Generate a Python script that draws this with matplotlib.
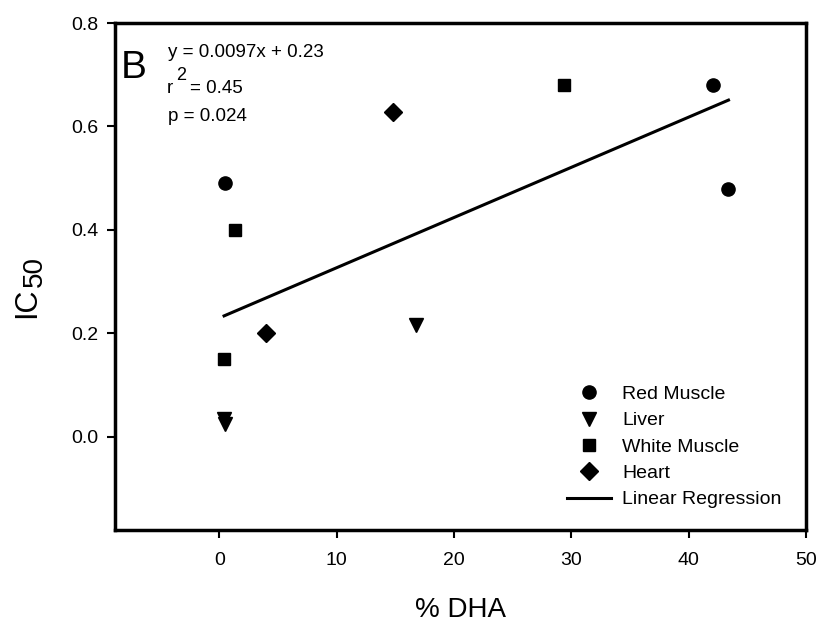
import matplotlib
matplotlib.use("Agg")
import matplotlib.pyplot as plt
import numpy as np

plt.rcParams['font.family'] = ['Liberation Sans', 'DejaVu Sans']

# Data
red_x = [0.45, 42.1, 43.4]
red_y = [0.49, 0.68, 0.48]
liver_x = [0.4, 0.45, 16.8]
liver_y = [0.035, 0.025, 0.216]
white_x = [1.35, 0.4, 29.4]
white_y = [0.40, 0.15, 0.68]
heart_x = [4.0, 14.8]
heart_y = [0.20, 0.628]
slope = 0.0097
intercept = 0.23

x_ticks = [0, 10, 20, 30, 40, 50]
y_ticks = [0.0, 0.2, 0.4, 0.6, 0.8]

W, H = 819, 622
fig = plt.figure(figsize=(W / 100, H / 100), dpi=100)
ax = fig.add_axes([0.1404, 0.1479, 0.8436, 0.8151])

ax.plot(red_x, red_y, 'o', color='black', markersize=9.5, label='Red Muscle', linestyle='none')
ax.plot(liver_x, liver_y, 'v', color='black', markersize=10, label='Liver', linestyle='none')
ax.plot(white_x, white_y, 's', color='black', markersize=8.5, label='White Muscle', linestyle='none')
ax.plot(heart_x, heart_y, 'D', color='black', markersize=9, label='Heart', linestyle='none')

all_x = red_x + liver_x + white_x + heart_x
xr = np.array([min(all_x), max(all_x)])
ax.plot(xr, slope * xr + intercept, '-', color='black', linewidth=2.2, label='Linear Regression')

ax.set_xlim(-8.9, 50)
ax.set_ylim(-0.18, 0.8)
ax.set_xticks(x_ticks)
ax.set_yticks(y_ticks)
ax.set_xticklabels([str(v) for v in x_ticks])
ax.set_yticklabels([f"{v:.1f}" for v in y_ticks])
ax.tick_params(axis='both', direction='out', length=6, width=1.5, labelsize=14, color='black', pad=6)
ax.tick_params(axis='x', pad=10)
ax.tick_params(top=False, right=False)
for s in ax.spines.values():
    s.set_linewidth(2.5)

ax.set_xlabel('% DHA', fontsize=20, labelpad=20)

# y label: IC with a large subscript 50
def fx(px):
    return px / W

def fy(py):
    return 1 - py / H

fig.text(fx(35), fy(318), 'IC', rotation=90, rotation_mode='anchor', ha='left', va='baseline', fontsize=22)
fig.text(fx(42), fy(287), '50', rotation=90, rotation_mode='anchor', ha='left', va='baseline', fontsize=20)

# annotations (axes fraction from pixel positions)
ax_l, ax_t, ax_w, ax_h = 115, 23, 691, 507

def axx(px):
    return (px - ax_l) / ax_w

def axy(py):
    return 1 - (py - ax_t) / ax_h

ax.text(axx(121), axy(78), 'B', transform=ax.transAxes, fontsize=28, va='baseline', ha='left')
ax.text(axx(168), axy(57), 'y = 0.0097x + 0.23', transform=ax.transAxes, fontsize=13.5, va='baseline', ha='left')
ax.text(axx(167), axy(93), 'r', transform=ax.transAxes, fontsize=13.5, va='baseline', ha='left')
ax.text(axx(176), axy(80), '2', transform=ax.transAxes, fontsize=13, va='baseline', ha='left')
ax.text(axx(190), axy(93), '= 0.45', transform=ax.transAxes, fontsize=13.5, va='baseline', ha='left')
ax.text(axx(168), axy(121), 'p = 0.024', transform=ax.transAxes, fontsize=13.5, va='baseline', ha='left')

leg = ax.legend(loc='lower right', bbox_to_anchor=(0.99, 0.008), frameon=False, fontsize=14,
                handlelength=2.3, handletextpad=0.55, labelspacing=0.45)

fig.savefig('out.png', dpi=100)
